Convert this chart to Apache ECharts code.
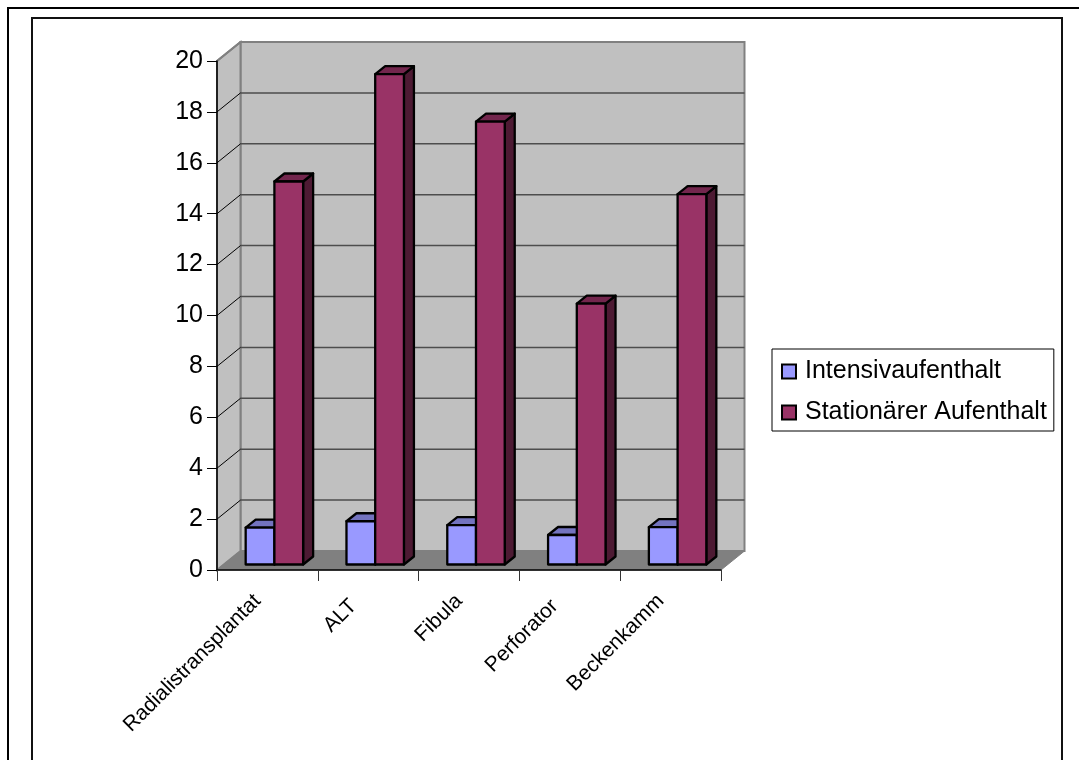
<!DOCTYPE html>
<html>
<head>
<meta charset="utf-8">
<style>
  html, body { margin: 0; padding: 0; background: #fff; }
  #chart { width: 1079px; height: 760px; }
</style>
<script src="https://cdn.jsdelivr.net/npm/echarts@6/dist/echarts.min.js"></script>
</head>
<body>
<div id="chart"></div>
<script>
const categories = ['Radialistransplantat', 'ALT', 'Fibula', 'Perforator', 'Beckenkamm'];
const intensiv = [1.45, 1.7, 1.55, 1.16, 1.47];
const stationaer = [15.05, 19.27, 17.4, 10.25, 14.55];
const yTicks = [2, 4, 6, 8, 10, 12, 14, 16, 18, 20];
// these two labels sit a little further from their tick in the original
const farLabels = ['ALT', 'Perforator'];

const FONT = '"Liberation Sans", Arial, sans-serif';

// fake 3d: how far the back wall sits from the front axes
const wallDx = 23.5;
const wallDy = -19;
// bars stand inside that depth
const barFrontDx = 7;
const barFrontDy = -5.5;
const barDx = 10;
const barDy = -8;
const barGap = 0.215; // share of a category left free on each side

const renderWalls = (params, api) => {
  const o = api.coord(['Radialistransplantat', 0]);
  const size = api.size([1, 1]);
  const x0 = o[0] - size[0] / 2;
  const x1 = x0 + size[0] * categories.length;
  const y0 = o[1];
  const y1 = api.coord(['Radialistransplantat', 20])[1];
  const wall = { stroke: '#808080', lineWidth: 2 };
  const children = [
    { type: 'polygon', shape: { points: [[x0 + wallDx, y1 + wallDy], [x1 + wallDx, y1 + wallDy], [x1 + wallDx, y0 + wallDy], [x0 + wallDx, y0 + wallDy]] },
      style: { fill: '#c0c0c0', ...wall } },
    { type: 'polygon', shape: { points: [[x0, y1], [x0 + wallDx, y1 + wallDy], [x0 + wallDx, y0 + wallDy], [x0, y0]] },
      style: { fill: '#c0c0c0', ...wall } },
    { type: 'polygon', shape: { points: [[x0, y0], [x0 + wallDx, y0 + wallDy], [x1 + wallDx, y0 + wallDy], [x1, y0]] },
      style: { fill: '#808080', stroke: '#808080', lineWidth: 1 } }
  ];
  yTicks.forEach((tick) => {
    const y = api.coord(['Radialistransplantat', tick])[1];
    if (tick < 20) {
      children.push({ type: 'line', shape: { x1: x0 + wallDx, y1: y + wallDy, x2: x1 + wallDx, y2: y + wallDy },
        style: { stroke: '#4d4d4d', lineWidth: 1.5 } });
    }
    children.push({ type: 'line', shape: { x1: x0, y1: y, x2: x0 + wallDx, y2: y + wallDy },
      style: { stroke: tick === 20 ? '#808080' : '#000', lineWidth: tick === 20 ? 2 : 1 } });
  });
  return { type: 'group', children };
};

const makeBarRenderer = (slot, front, top, side) => (params, api) => {
  const base = api.coord([api.value(0), 0]);
  const head = api.coord([api.value(0), api.value(1)]);
  const band = api.size([1, 0])[0];
  const barW = band * (1 - barGap * 2) / 2;
  const left = base[0] - band / 2 + band * barGap + barW * slot + barFrontDx;
  const right = left + barW;
  const yb = base[1] + barFrontDy;
  const yt = head[1] + barFrontDy;
  const line = { stroke: '#000', lineWidth: 2.3, lineJoin: 'round' };
  return {
    type: 'group',
    children: [
      { type: 'polygon', shape: { points: [[right, yb], [right + barDx, yb + barDy], [right + barDx, yt + barDy], [right, yt]] },
        style: { fill: side, ...line } },
      { type: 'polygon', shape: { points: [[left, yt], [left + barDx, yt + barDy], [right + barDx, yt + barDy], [right, yt]] },
        style: { fill: top, ...line } },
      { type: 'polygon', shape: { points: [[left, yb], [left, yt], [right, yt], [right, yb]] },
        style: { fill: front, ...line } }
    ]
  };
};

const chart = echarts.init(document.getElementById('chart'), null, { renderer: 'canvas' });

chart.setOption({
  animation: false,
  backgroundColor: '#fff',
  textStyle: { fontFamily: FONT },
  graphic: [
    { type: 'rect', shape: { x: 8, y: 8, width: 1090, height: 790 }, style: { fill: 'none', stroke: '#000', lineWidth: 2 }, silent: true },
    { type: 'rect', shape: { x: 32, y: 18, width: 1030, height: 790 }, style: { fill: 'none', stroke: '#111', lineWidth: 2 }, silent: true }
  ],
  grid: { left: 217, top: 61, width: 504, height: 509 },
  legend: {
    orient: 'vertical',
    left: 772,
    top: 349,
    padding: [10, 7, 6, 9],
    itemGap: 16,
    itemWidth: 14,
    itemHeight: 14,
    icon: 'rect',
    backgroundColor: '#fff',
    borderColor: '#000',
    borderWidth: 1,
    itemStyle: { borderColor: '#000', borderWidth: 2 },
    textStyle: { fontFamily: FONT, fontSize: 25, color: '#000', padding: [0, 0, 0, 4] },
    data: ['Intensivaufenthalt', 'Stationärer Aufenthalt']
  },
  xAxis: {
    type: 'category',
    data: categories,
    axisLine: { show: true, lineStyle: { color: '#000', width: 1.5 } },
    axisTick: { show: true, length: 11, lineStyle: { color: '#333', width: 1 } },
    axisLabel: {
      rotate: 45,
      interval: 0,
      margin: 18,
      color: '#000',
      fontFamily: FONT,
      fontSize: 21,
      padding: [0, 14, 0, 0],
      formatter: (value) => (farLabels.includes(value) ? `{far|${value}}` : value),
      rich: { far: { fontFamily: FONT, fontSize: 21, color: '#000', padding: [0, 7, 0, 0] } }
    },
    z: 5
  },
  yAxis: {
    type: 'value',
    min: 0,
    max: 20,
    interval: 2,
    splitLine: { show: false },
    axisLine: { show: true, lineStyle: { color: '#000', width: 1.5 } },
    axisTick: { show: true, length: 10, lineStyle: { color: '#000', width: 1 } },
    axisLabel: { margin: 14, color: '#000', fontFamily: FONT, fontSize: 25 },
    z: 5
  },
  series: [
    {
      type: 'custom',
      name: 'walls',
      silent: true,
      z: 1,
      renderItem: renderWalls,
      data: [['Radialistransplantat', 0]],
      encode: { x: 0, y: 1 }
    },
    {
      type: 'custom',
      name: 'Intensivaufenthalt',
      z: 2,
      itemStyle: { color: '#9999ff' },
      renderItem: makeBarRenderer(0, '#9999ff', '#7373bf', '#4d4d80'),
      data: categories.map((c, i) => [c, intensiv[i]]),
      encode: { x: 0, y: 1 }
    },
    {
      type: 'custom',
      name: 'Stationärer Aufenthalt',
      z: 3,
      itemStyle: { color: '#993366' },
      renderItem: makeBarRenderer(1, '#993366', '#73264d', '#4d1a33'),
      data: categories.map((c, i) => [c, stationaer[i]]),
      encode: { x: 0, y: 1 }
    }
  ]
});

window.addEventListener('resize', () => chart.resize());
</script>
</body>
</html>
